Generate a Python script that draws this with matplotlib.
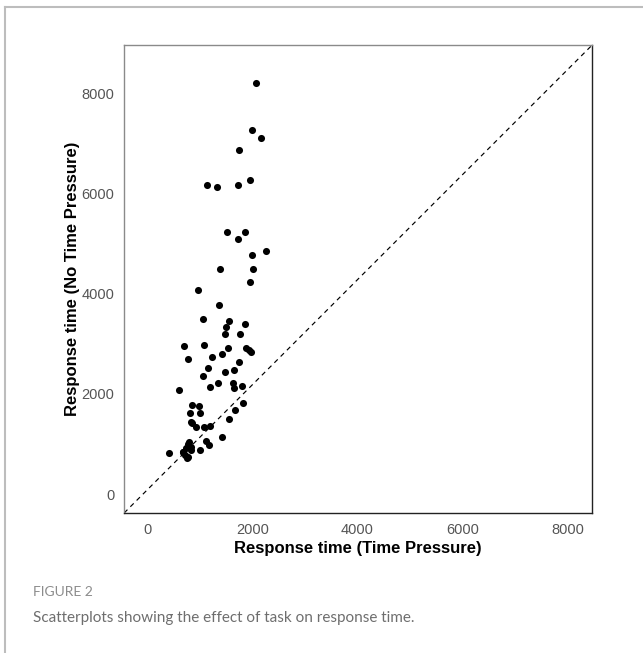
import matplotlib
matplotlib.use("Agg")
import matplotlib.pyplot as plt
from matplotlib.lines import Line2D

# response times (ms): x = with time pressure, y = without
rt_pressure = [2076, 2002, 2167, 1749, 1961, 1141, 1337, 1724, 1515, 1869,
               1724, 2268, 2002, 1388, 2021, 1953, 976, 1363, 1060, 1560,
               1509, 1858, 1484, 1774, 698, 1078, 1546, 1877, 1942, 1971,
               1421, 780, 1236, 1749, 1166, 1660, 1489, 1071, 609, 1204,
               1345, 1630, 1654, 1806, 1831, 1668, 1554, 862, 993, 818,
               1008, 837, 863, 932, 1084, 1204, 1421, 1123, 1179, 1002,
               785, 742, 691, 832, 767, 424, 805, 673, 715, 843, 774]
rt_no_pressure = [8204, 7258, 7099, 6860, 6273, 6161, 6121, 6174, 5235, 5229,
                  5083, 4856, 4776, 4484, 4484, 4225, 4071, 3766, 3487, 3459,
                  3333, 3393, 3193, 3193, 2947, 2973, 2920, 2907, 2866, 2826,
                  2800, 2700, 2728, 2635, 2514, 2475, 2434, 2360, 2075, 2129,
                  2209, 2215, 2109, 2155, 1816, 1670, 1490, 1776, 1756, 1610,
                  1610, 1443, 1410, 1344, 1331, 1363, 1131, 1063, 984, 872,
                  998, 912, 844, 944, 713, 812, 1042, 844, 776, 884, 733]

ticks = [0, 2000, 4000, 6000, 8000]
xlims = (-437, 8460)
ylims = (-379, 8962)

fig = plt.figure(figsize=(6.43, 6.53), dpi=100)
ax = fig.add_axes([0.193, 0.2144, 0.728, 0.7167])

ax.scatter(rt_pressure, rt_no_pressure, s=26, color="black", linewidths=0, zorder=3)
# reference diagonal running corner to corner of the panel
ax.axline((xlims[0], ylims[0]), (xlims[1], ylims[1]), color="black",
          linestyle=(0, (4, 3.5)), linewidth=0.85)

ax.set_xlim(xlims)
ax.set_ylim(ylims)
ax.set_xticks(ticks)
ax.set_yticks(ticks)
ax.tick_params(length=0, pad=7, labelsize=10.5, labelcolor="#555555")
for lab in ax.get_xticklabels() + ax.get_yticklabels():
    lab.set_family("Liberation Sans")

for side in ["left", "top"]:
    ax.spines[side].set_color("#8a8a8a")
for side in ["bottom", "right"]:
    ax.spines[side].set_color("#222222")
for sp in ax.spines.values():
    sp.set_linewidth(1.0)

ax.set_xlabel("Response time (Time Pressure)", family="Liberation Sans",
              fontweight="bold", fontsize=12, labelpad=3)
ax.set_ylabel("Response time (No Time Pressure)", family="Liberation Sans",
              fontweight="bold", fontsize=12, labelpad=1)

# page frame and caption
fig.add_artist(Line2D([5 / 643, 5 / 643], [0, 1 - 7 / 653], transform=fig.transFigure,
                      color="#bdbdbd", linewidth=1.5))
fig.add_artist(Line2D([5 / 643, 1], [1 - 7 / 653, 1 - 7 / 653], transform=fig.transFigure,
                      color="#bdbdbd", linewidth=1.5))
fig.text(33 / 643, 1 - 592 / 653, "FIGURE 2", family="Lato", fontsize=10,
         color="#8c8c8c", va="center", ha="left")
fig.text(33 / 643, 1 - 618 / 653, "Scatterplots showing the effect of task on response time.",
         family="Lato", fontsize=11, color="#6e6e6e", va="center", ha="left")

fig.savefig("out.png", dpi=100)
